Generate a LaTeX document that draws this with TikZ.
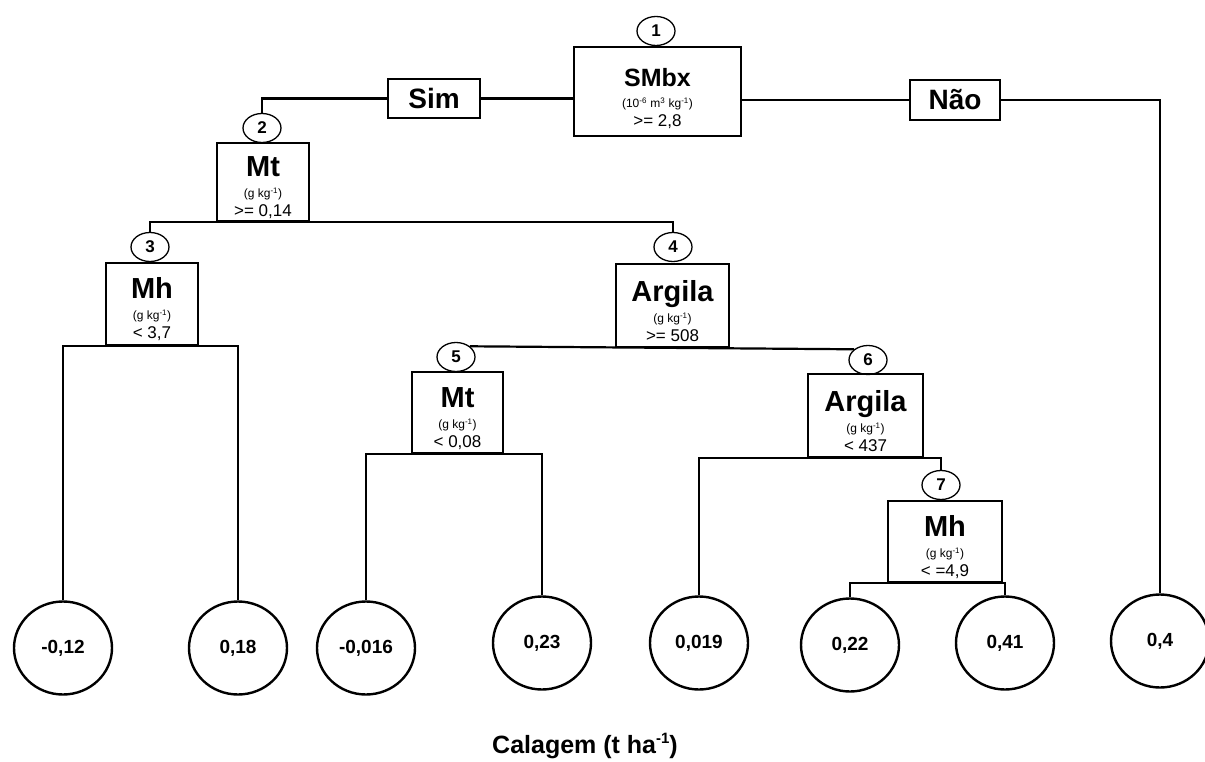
\documentclass[tikz,border=0pt]{standalone}
\usepackage{fontspec}
\setmainfont{Liberation Sans}
\usetikzlibrary{shapes.geometric}
\newcommand{\boxtxt}[4]{{\fontsize{#4}{#4}\selectfont\bfseries\rule{0pt}{32pt}#1}\\[3pt]{\fontsize{12}{14}\selectfont #2}\\[1pt]{\fontsize{17}{17}\selectfont #3}}
\begin{document}
\begin{tikzpicture}[x=1pt,y=-1pt,
  box/.style={draw, line width=2.6pt, inner sep=0pt, align=center, font=\fontsize{12}{18}\selectfont},
  yesno/.style={draw, line width=2.6pt, inner sep=0pt, font=\fontsize{28}{28}\selectfont\bfseries},
  num/.style={draw, ellipse, line width=1.3pt, minimum width=38pt, minimum height=29pt, inner sep=0pt, font=\fontsize{17}{17}\selectfont\bfseries},
  leaf/.style={draw, ellipse, line width=2.4pt, minimum width=98pt, minimum height=93pt, inner sep=0pt, font=\fontsize{19}{19}\selectfont\bfseries},
  link/.style={line width=2.2pt}]
\useasboundingbox (0,0) rectangle (1205,762);
% decision boxes
\node[box, minimum width=167pt, minimum height=89pt] (n1) at (657.5,91.5) {\boxtxt{SMbx}{(10\textsuperscript{-6} m\textsuperscript{3} kg\textsuperscript{-1})}{>= 2,8}{25}};
\node[num] (c1) at (656,31) {1};
\node[yesno, minimum width=92pt, minimum height=39pt] (sim) at (434,98.5) {Sim};
\node[yesno, minimum width=90pt, minimum height=40pt] (nao) at (955,100) {Não};
\node[num] (c2) at (262,128) {2};
\node[box, minimum width=92pt, minimum height=78pt] (n2) at (263,182) {\boxtxt{Mt}{(g kg\textsuperscript{-1})}{>= 0,14}{29}};
\node[num] (c3) at (150,247) {3};
\node[box, minimum width=92pt, minimum height=82pt] (n3) at (152,304) {\boxtxt{Mh}{(g kg\textsuperscript{-1})}{< 3,7}{29}};
\node[num] (c4) at (673,247) {4};
\node[box, minimum width=113pt, minimum height=83pt] (n4) at (672.5,305.5) {\boxtxt{Argila}{(g kg\textsuperscript{-1})}{>= 508}{29}};
\node[num] (c5) at (456,357) {5};
\node[box, minimum width=91pt, minimum height=81pt] (n5) at (457.5,412.5) {\boxtxt{Mt}{(g kg\textsuperscript{-1})}{< 0,08}{29}};
\node[num] (c6) at (868,360) {6};
\node[box, minimum width=115pt, minimum height=83pt] (n6) at (865.5,415.5) {\boxtxt{Argila}{(g kg\textsuperscript{-1})}{< 437}{29}};
\node[num] (c7) at (941,485) {7};
\node[box, minimum width=114pt, minimum height=81pt] (n7) at (945,541.5) {\boxtxt{Mh}{(g kg\textsuperscript{-1})}{< =4,9}{29}};
% leaves
\node[leaf] (l1) at (63,648) {-0,12};
\node[leaf] (l2) at (238,648) {0,18};
\node[leaf] (l3) at (366,648) {-0,016};
\node[leaf] (l4) at (542,643) {0,23};
\node[leaf] (l5) at (699,643) {0,019};
\node[leaf] (l6) at (850,645) {0,22};
\node[leaf] (l7) at (1005,643) {0,41};
\node[leaf] (l8) at (1160,641) {0,4};
% caption
\node[font=\fontsize{25}{25}\selectfont\bfseries] (cap) at (585,746) {Calagem (t ha\raisebox{0.42em}{\fontsize{15}{15}\selectfont -1})};
% connectors
\draw[link] (sim.east) -- (sim.east -| n1.west);
\draw[link] (sim.west) -| (c2.north);
\draw[link] (nao.west -| n1.east) -- (nao.west);
\draw[link] (nao.east) -| (l8.north);
\draw[link] (c3.north) |- (n2.south) -| (c4.north);
\draw[link] (l1.north) |- (n3.south) -| (l2.north);
\draw[link] (c5.north east) -- (c6.north west);
\draw[link] (l3.north) |- (n5.south) -| (l4.north);
\draw[link] (l5.north) |- (n6.south) -| (c7.north);
\draw[link] (l6.north) |- (n7.south) -| (l7.north);
\end{tikzpicture}
\end{document}
